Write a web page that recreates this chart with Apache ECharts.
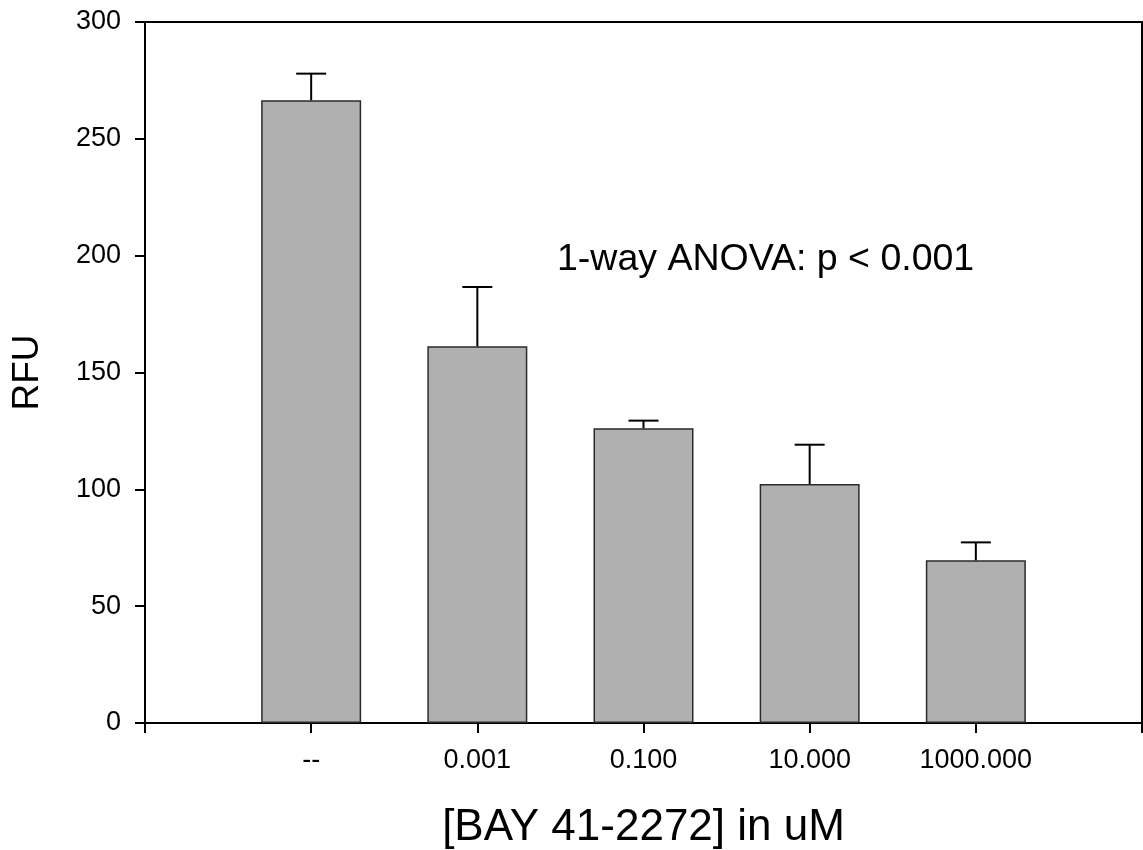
<!DOCTYPE html>
<html>
<head>
<meta charset="utf-8">
<script src="https://cdn.jsdelivr.net/npm/echarts@6/dist/echarts.min.js"></script>
<style>
html,body{margin:0;padding:0;background:#fff;}
#chart{width:1143px;height:850px;}
</style>
</head>
<body>
<div id="chart"></div>
<script>
var categories = ['--', '0.001', '0.100', '10.000', '1000.000'];
var positions = [1, 2, 3, 4, 5];
var means = [266.5, 161.2, 126.1, 102.3, 69.6];
var errors = [11.4, 25.4, 3.3, 16.8, 7.7];
var yTicks = [0, 50, 100, 150, 200, 250, 300];
var annotation = '1-way ANOVA: p < 0.001';
var xTitle = '[BAY 41-2272] in uM';
var yTitle = 'RFU';

var FONT = '"Liberation Sans", Arial, sans-serif';

var barData = positions.map(function (p, i) { return [p, means[i]]; });
var errData = positions.map(function (p, i) { return [p, means[i], means[i] + errors[i]]; });

var chart = echarts.init(document.getElementById('chart'), null, {renderer: 'canvas'});
chart.setOption({
  backgroundColor: '#ffffff',
  animation: false,
  grid: {
    left: 145, right: 1, top: 22, bottom: 127,
    outerBoundsMode: 'none', containLabel: false,
    show: true, borderColor: '#000', borderWidth: 2, backgroundColor: 'transparent'
  },
  xAxis: {
    type: 'value', min: 0, max: 6, interval: 1,
    splitLine: {show: false},
    axisLine: {show: true, onZero: false, lineStyle: {color: '#000', width: 2}},
    axisTick: {show: true, length: 10, inside: false, lineStyle: {color: '#000', width: 2}},
    axisLabel: {
      margin: 24, color: '#000', fontSize: 27, fontFamily: FONT,
      showMinLabel: true, showMaxLabel: true,
      formatter: function (v) {
        var i = Math.round(v) - 1;
        return (i >= 0 && i < categories.length) ? categories[i] : '';
      }
    },
    name: xTitle, nameLocation: 'middle', nameGap: 83,
    nameTextStyle: {color: '#000', fontSize: 44, fontFamily: FONT}
  },
  yAxis: {
    type: 'value', min: yTicks[0], max: yTicks[yTicks.length - 1], interval: 50,
    splitLine: {show: false},
    axisLine: {show: true, lineStyle: {color: '#000', width: 2}},
    axisTick: {show: true, length: 10, inside: false, lineStyle: {color: '#000', width: 2}},
    axisLabel: {margin: 24, color: '#000', fontSize: 27, fontFamily: FONT},
    name: yTitle, nameLocation: 'middle', nameGap: 99, nameRotate: 90,
    nameTextStyle: {color: '#000', fontSize: 37, fontFamily: FONT}
  },
  series: [
    {
      type: 'bar',
      data: barData,
      barWidth: 100,
      itemStyle: {color: '#b0b0b0', borderColor: '#2a2a2a', borderWidth: 1.5},
      z: 2
    },
    {
      type: 'custom',
      data: errData,
      z: 3,
      renderItem: function (params, api) {
        var x = api.value(0);
        var base = api.coord([x, api.value(1)]);
        var top = api.coord([x, api.value(2)]);
        var half = 15;
        return {
          type: 'group',
          children: [
            {type: 'line', shape: {x1: base[0], y1: base[1], x2: top[0], y2: top[1]},
             style: {stroke: '#000', lineWidth: 2}},
            {type: 'line', shape: {x1: top[0] - half, y1: top[1], x2: top[0] + half, y2: top[1]},
             style: {stroke: '#000', lineWidth: 2}}
          ]
        };
      }
    }
  ],
  graphic: [
    {
      type: 'text', left: 557, top: 241,
      style: {text: annotation, fill: '#000', font: '37.5px ' + FONT}
    }
  ]
});
</script>
</body>
</html>
